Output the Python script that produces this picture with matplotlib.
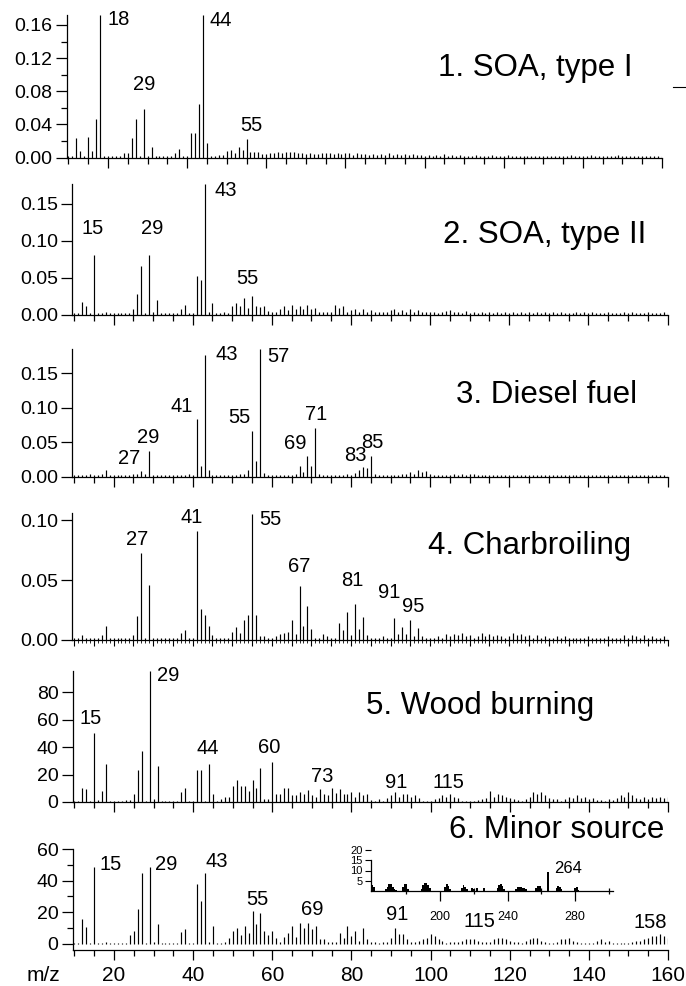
import numpy as np
import matplotlib
matplotlib.use("Agg")
import matplotlib.pyplot as plt
from matplotlib.ticker import MultipleLocator, FormatStrFormatter
from matplotlib.lines import Line2D

plt.rcParams['font.family'] = ['Liberation Sans', 'DejaVu Sans']

#====== factor mass spectra, m/z 10..160 ======
mz = np.arange(10, 161)

soa1 = [0.0015, 0.0015, 0.023, 0.008, 0.0015, 0.025, 0.008, 0.047, 0.172, 0.0015,
        0.0015, 0.0015, 0.0015, 0.0015, 0.005, 0.006, 0.023, 0.047, 0.002, 0.059,
        0.002, 0.013, 0.0015, 0.0015, 0.0015, 0.0015, 0.002, 0.006, 0.010, 0.002,
        0.002, 0.030, 0.030, 0.064, 0.172, 0.017, 0.002, 0.002, 0.003, 0.003,
        0.008, 0.009, 0.006, 0.013, 0.009, 0.022, 0.007, 0.007, 0.007, 0.004,
        0.004, 0.005, 0.006, 0.007, 0.005, 0.007, 0.007, 0.007, 0.006, 0.005,
        0.004, 0.005, 0.004, 0.004, 0.006, 0.005, 0.006, 0.004, 0.005, 0.004,
        0.006, 0.005, 0.003, 0.005, 0.004, 0.004, 0.003, 0.004, 0.003, 0.004,
        0.003, 0.005, 0.003, 0.004, 0.003, 0.004, 0.003, 0.004, 0.003, 0.003,
        0.002, 0.003, 0.002, 0.003, 0.002, 0.004, 0.002, 0.003, 0.002, 0.003,
        0.002, 0.002, 0.002, 0.003, 0.002, 0.002, 0.002, 0.003, 0.002, 0.002,
        0.002, 0.003, 0.002, 0.002, 0.002, 0.002, 0.002, 0.002, 0.002, 0.002,
        0.002, 0.002, 0.002, 0.002, 0.002, 0.002, 0.002, 0.003, 0.002, 0.002,
        0.002, 0.002, 0.003, 0.002, 0.002, 0.002, 0.002, 0.002, 0.002, 0.003,
        0.002, 0.002, 0.002, 0.002, 0.002, 0.002, 0.002, 0.002, 0.002, 0.002,
        0.002]

soa2 = [0.0015, 0.0015, 0.017, 0.011, 0.0015, 0.081, 0.0015, 0.0015, 0.003, 0.0015,
        0.0015, 0.0015, 0.0015, 0.0015, 0.002, 0.007, 0.028, 0.066, 0.0015, 0.081,
        0.003, 0.020, 0.0015, 0.0015, 0.0015, 0.0015, 0.0015, 0.007, 0.013, 0.0015,
        0.0015, 0.052, 0.047, 0.177, 0.003, 0.016, 0.0015, 0.0015, 0.003, 0.002,
        0.011, 0.016, 0.011, 0.022, 0.009, 0.025, 0.011, 0.010, 0.011, 0.005,
        0.004, 0.004, 0.008, 0.011, 0.006, 0.013, 0.008, 0.011, 0.007, 0.013,
        0.008, 0.009, 0.004, 0.004, 0.004, 0.004, 0.013, 0.009, 0.012, 0.004,
        0.006, 0.008, 0.004, 0.007, 0.004, 0.006, 0.003, 0.003, 0.004, 0.003,
        0.006, 0.008, 0.004, 0.006, 0.004, 0.007, 0.003, 0.006, 0.003, 0.004,
        0.003, 0.004, 0.002, 0.003, 0.005, 0.006, 0.003, 0.004, 0.002, 0.005,
        0.002, 0.003, 0.002, 0.003, 0.002, 0.004, 0.002, 0.003, 0.002, 0.004,
        0.002, 0.003, 0.002, 0.003, 0.002, 0.003, 0.002, 0.003, 0.002, 0.004,
        0.002, 0.003, 0.002, 0.003, 0.002, 0.002, 0.002, 0.003, 0.002, 0.003,
        0.002, 0.003, 0.002, 0.002, 0.002, 0.003, 0.002, 0.002, 0.002, 0.003,
        0.002, 0.003, 0.002, 0.002, 0.002, 0.003, 0.002, 0.002, 0.002, 0.003,
        0.002]

diesel = [0.002, 0.002, 0.002, 0.002, 0.003, 0.002, 0.002, 0.003, 0.010, 0.002,
          0.002, 0.002, 0.002, 0.002, 0.002, 0.003, 0.003, 0.008, 0.003, 0.037,
          0.002, 0.002, 0.002, 0.002, 0.002, 0.002, 0.002, 0.002, 0.002, 0.003,
          0.002, 0.084, 0.015, 0.176, 0.010, 0.002, 0.002, 0.002, 0.002, 0.002,
          0.002, 0.002, 0.003, 0.004, 0.009, 0.066, 0.023, 0.185, 0.005, 0.002,
          0.002, 0.002, 0.002, 0.002, 0.002, 0.002, 0.003, 0.015, 0.006, 0.030,
          0.015, 0.071, 0.004, 0.002, 0.002, 0.002, 0.002, 0.002, 0.002, 0.003,
          0.002, 0.005, 0.009, 0.014, 0.012, 0.030, 0.003, 0.002, 0.002, 0.002,
          0.002, 0.002, 0.002, 0.003, 0.004, 0.007, 0.004, 0.009, 0.006, 0.008,
          0.003, 0.002, 0.002, 0.002, 0.002, 0.002, 0.003, 0.002, 0.003, 0.002,
          0.003, 0.003, 0.002, 0.002, 0.002, 0.002, 0.002, 0.002, 0.002, 0.002,
          0.002, 0.0015, 0.002, 0.0015, 0.002, 0.0015, 0.002, 0.0015, 0.002, 0.0015,
          0.002, 0.0015, 0.002, 0.0015, 0.002, 0.0015, 0.002, 0.0015, 0.002, 0.0015,
          0.002, 0.0015, 0.002, 0.0015, 0.002, 0.0015, 0.002, 0.0015, 0.002, 0.0015,
          0.002, 0.0015, 0.002, 0.0015, 0.002, 0.0015, 0.002, 0.0015, 0.002, 0.002,
          0.002]

charbroil = [0.0015, 0.0015, 0.004, 0.002, 0.0015, 0.002, 0.0015, 0.004, 0.012, 0.0015,
             0.0015, 0.0015, 0.0015, 0.0015, 0.0015, 0.004, 0.020, 0.073, 0.0015, 0.046,
             0.0015, 0.002, 0.0015, 0.0015, 0.0015, 0.0015, 0.0015, 0.006, 0.008, 0.0015,
             0.0015, 0.091, 0.026, 0.021, 0.012, 0.004, 0.0015, 0.0015, 0.002, 0.002,
             0.007, 0.011, 0.006, 0.017, 0.021, 0.105, 0.021, 0.003, 0.003, 0.002,
             0.002, 0.003, 0.005, 0.006, 0.007, 0.017, 0.005, 0.045, 0.012, 0.028,
             0.009, 0.0015, 0.0015, 0.005, 0.003, 0.002, 0.002, 0.014, 0.008, 0.023,
             0.004, 0.030, 0.009, 0.019, 0.004, 0.002, 0.002, 0.002, 0.003, 0.002,
             0.002, 0.018, 0.005, 0.011, 0.005, 0.017, 0.003, 0.010, 0.003, 0.002,
             0.002, 0.002, 0.003, 0.002, 0.005, 0.003, 0.005, 0.004, 0.006, 0.003,
             0.004, 0.002, 0.003, 0.006, 0.003, 0.005, 0.003, 0.004, 0.003, 0.002,
             0.003, 0.006, 0.004, 0.005, 0.003, 0.004, 0.002, 0.004, 0.002, 0.003,
             0.002, 0.002, 0.003, 0.002, 0.003, 0.002, 0.002, 0.002, 0.002, 0.002,
             0.003, 0.002, 0.002, 0.002, 0.002, 0.003, 0.002, 0.002, 0.002, 0.004,
             0.002, 0.004, 0.003, 0.002, 0.004, 0.002, 0.003, 0.002, 0.002, 0.003,
             0.002]

wood = [1, 1, 10.4, 9.7, 0.5, 50, 1.5, 8, 28, 1,
        1, 1, 1, 1.5, 1.2, 6, 23.5, 37, 1, 95.3,
        2.4, 26, 1, 1, 1, 1, 1, 7, 10, 0.5,
        0.5, 23.5, 23.5, 0.5, 28, 6, 0.5, 2, 3.6, 4,
        11.4, 15.8, 11.4, 11.4, 8, 16.2, 10.4, 24.7, 2.4, 2.4,
        29, 6, 6, 10, 10, 5, 5, 7, 5.6, 9,
        5, 4, 9.7, 5.6, 5, 10.4, 6.5, 9.7, 5.6, 5.6,
        7, 4, 7, 5, 6, 1.5, 1, 2, 1, 3,
        5, 7, 4, 6, 6, 4, 5, 3, 1, 1,
        1, 2, 3, 5, 4, 6, 4, 3, 1, 1,
        1, 1, 1.5, 2, 3, 8, 4, 6, 5, 4,
        3, 2, 1.5, 1, 2, 4, 7, 6, 7, 5,
        3, 2, 2, 1, 2, 4, 3, 5, 3, 4,
        2, 3, 1.5, 1.5, 1, 2, 1.5, 3, 5, 4,
        7, 5, 3, 2, 4, 2, 4, 3, 4, 3,
        4]

minor = [0.5, 0.5, 15.6, 10.6, 0.5, 48.4, 0.5, 0.5, 1.5, 0.5,
         0.5, 0.5, 0.5, 0.5, 5.7, 8.5, 22, 44.8, 0.5, 48.4,
         1.5, 12.5, 0.5, 0.5, 0.5, 0.5, 0.5, 7.4, 9.3, 0.5,
         0.5, 37.8, 27.3, 44.8, 1.5, 11.4, 0.5, 0.5, 1.5, 3.6,
         8.5, 10.4, 5.7, 11.4, 6.8, 21.1, 12.5, 19.4, 8.5, 5.7,
         8.5, 3.6, 1.5, 4.2, 7.2, 11.4, 4.6, 13, 10, 13,
         9.3, 11.4, 3, 3, 1.5, 1.5, 1.5, 7, 4, 11.5,
         5, 8, 2, 10, 3, 1, 1, 0.5, 1, 1,
         4, 10, 6, 6, 3, 1, 1, 2, 3, 4,
         6, 5, 3, 2, 0.5, 1, 1, 1, 2, 3,
         3, 3, 2, 1, 1, 1, 3, 4, 4, 3,
         2, 1, 1, 0.5, 2, 3, 4, 4, 2, 1,
         0.5, 0.5, 1, 3, 3, 4, 2, 1, 0.5, 0.5,
         0.5, 0.5, 2, 3, 1, 2, 0.5, 0.5, 0.5, 0.5,
         0.5, 1, 2, 2, 3, 4, 5, 5, 6, 5,
         4]

# high-mass part of the minor source (inset)
inset_mz = [159, 160, 161, 168, 169, 170, 171, 172, 173, 174, 178, 179, 180, 181,
            189, 190, 191, 192, 193, 194, 203, 204, 205, 206, 213, 214, 215, 216,
            219, 220, 222, 226, 234, 235, 236, 237, 238, 245, 246, 247, 248, 249,
            250, 251, 257, 258, 259, 260, 264, 269, 270, 271, 272, 280, 281, 282]
inset_val = [5, 3, 2, 1, 2, 3.5, 3.5, 2, 1, 0.5, 2, 3.5, 3.5, 1,
             1, 3, 4, 4, 3, 1.5, 2, 3.5, 2.5, 1, 1.5, 3, 2, 1,
             1.5, 1, 1.5, 1.5, 1.5, 3, 3.5, 2.5, 1, 1, 2, 2, 2, 1.5,
             1.5, 1, 1.5, 2.5, 2.5, 1, 9.5, 1.5, 2.5, 2, 1, 1.5, 2, 0.5]

titles = ["1. SOA, type I", "2. SOA, type II", "3. Diesel fuel",
          "4. Charbroiling", "5. Wood burning", "6. Minor source"]
spectra = [soa1, soa2, diesel, charbroil, wood, minor]
peaks = [[18, 29, 44, 55],
         [15, 29, 43, 55],
         [27, 29, 41, 43, 55, 57, 69, 71, 83, 85],
         [27, 41, 55, 67, 81, 91, 95],
         [15, 29, 44, 60, 73, 91, 115],
         [15, 29, 43, 55, 69, 91, 115, 158]]
ylims = [(0, 0.172), (0, 0.177), (0, 0.185), (0, 0.106), (0, 95.3), (-3.8, 60)]

# text placement of the peak labels (data coords)
label_xy = [[(22.8, 0.167), (29.1, 0.0876), (48.6, 0.165), (56.2, 0.039)],
            [(14.8, 0.116), (29.8, 0.116), (48.4, 0.168), (53.8, 0.049)],
            [(23.9, 0.026), (28.7, 0.057), (37.2, 0.102), (48.5, 0.177), (51.7, 0.086),
             (61.6, 0.174), (66.0, 0.048), (71.2, 0.0895), (81.1, 0.030), (85.3, 0.050)],
            [(26.0, 0.084), (39.7, 0.102), (59.7, 0.1006), (66.9, 0.0617), (80.4, 0.050),
             (89.6, 0.040), (95.7, 0.028)],
            [(14.2, 60.6), (33.7, 92.1), (43.6, 38.8), (59.1, 39.5), (72.5, 18.2),
             (91.4, 14.5), (104.4, 14.5)],
            [(19.2, 50.1), (33.1, 50.1), (46.0, 52.2), (56.2, 28.3), (70.1, 22.0),
             (91.6, 18.4), (112.3, 14.0), (155.5, 13.5)]]

W, H = 686, 986
def rect(l, r, t, b):
    return [l / W, 1 - b / H, (r - l) / W, (b - t) / H]

# panel frames in pixels: left, right, top, bottom
frames = [(66.5, 662, 15, 157.5), (72, 667.5, 184, 314.5), (72, 667.5, 349, 476.5),
          (72, 667.5, 513, 640), (72.5, 668, 671, 802), (72.5, 668, 849, 950)]
title_px = [(535, 76), (545, 243), (547, 403), (530, 554), (480, 714), (557, 838)]

fig = plt.figure(figsize=(W / 100, H / 100), dpi=100)

axes = []
for i in range(6):
    ax = fig.add_axes(rect(*frames[i]))
    ax.vlines(mz, 0, spectra[i], color='black', lw=0.85)
    ax.set_xlim(9.5, 160)
    ax.set_ylim(*ylims[i])
    for s in ['top', 'right']:
        ax.spines[s].set_visible(False)
    for s in ['left', 'bottom']:
        ax.spines[s].set_linewidth(0.9)

    if i == 3:
        ax.xaxis.set_major_locator(MultipleLocator(5))
        ax.xaxis.set_minor_locator(MultipleLocator(1))
        ax.tick_params(axis='x', which='major', length=4.5, width=0.8)
        ax.tick_params(axis='x', which='minor', length=2.2, width=0.6)
    else:
        ax.xaxis.set_major_locator(MultipleLocator(20))
        ax.xaxis.set_minor_locator(MultipleLocator(5))
        ax.tick_params(axis='x', which='major', length=7.5, width=0.9)
        ax.tick_params(axis='x', which='minor', length=4.5, width=0.9)
    if i < 5:
        ax.tick_params(axis='x', labelbottom=False)
    else:
        ax.tick_params(axis='x', labelsize=15, pad=4)

    if i == 0:
        ax.yaxis.set_major_locator(MultipleLocator(0.04))
        ax.yaxis.set_minor_locator(MultipleLocator(0.02))
    elif i < 4:
        ax.yaxis.set_major_locator(MultipleLocator(0.05))
        ax.yaxis.set_minor_locator(MultipleLocator(0.05))
    elif i == 4:
        ax.yaxis.set_major_locator(MultipleLocator(20))
        ax.yaxis.set_minor_locator(MultipleLocator(20))
    else:
        ax.yaxis.set_major_locator(MultipleLocator(20))
        ax.yaxis.set_minor_locator(MultipleLocator(10))
    if i < 4:
        ax.yaxis.set_major_formatter(FormatStrFormatter('%.2f'))
    else:
        ax.yaxis.set_major_formatter(FormatStrFormatter('%d'))
    ax.tick_params(axis='y', which='major', length=8, width=0.9, labelsize=14, pad=2)
    ax.tick_params(axis='y', which='minor', length=4, width=0.9)

    for p, (tx, ty) in zip(peaks[i], label_xy[i]):
        if i == 5 and p == 115:
            continue
        ax.text(tx, ty, str(p), ha='center', va='center', fontsize=14.5)

    fig.text(title_px[i][0] / W, 1 - title_px[i][1] / H, titles[i],
             ha='center', va='baseline', fontsize=22.5)
    axes.append(ax)

fig.text(43 / W, 1 - 981 / H, 'm/z', ha='center', va='baseline', fontsize=15)

#=== inset: minor source above m/z 160
axin = fig.add_axes(rect(370.7, 613, 850, 891))
axin.patch.set_facecolor('none')
axin.bar(inset_mz, inset_val, width=1.0, color='black', lw=0)
axin.set_xlim(159, 302.4)
axin.set_ylim(0, 20)
for s in ['top', 'right']:
    axin.spines[s].set_visible(False)
axin.spines['left'].set_bounds(0, 15)
axin.spines['left'].set_linewidth(0.9)
axin.spines['bottom'].set_linewidth(0.9)
axin.set_yticks([5, 10, 15, 20])
axin.tick_params(axis='y', length=4, width=0.8, labelsize=8, pad=2)
axin.set_xticks([200, 240, 280])
axin.set_xticks([180, 220, 260, 300], minor=True)
axin.tick_params(axis='x', which='major', length=7.5, width=0.9, labelsize=9, pad=7)
axin.tick_params(axis='x', which='minor', length=5, width=0.9, direction='inout')
axin.text(275.7, 11.2, '264', ha='center', va='center', fontsize=12)

# the 115 label of the lower panel is drawn above the inset tick labels
k115 = peaks[5].index(115)
axin.text(label_xy[5][k115][0], label_xy[5][k115][1], '115', transform=axes[5].transData,
          ha='center', va='center', fontsize=14.5,
          bbox=dict(facecolor='white', edgecolor='none', pad=0.3))

fig.add_artist(Line2D([673 / W, 685 / W], [1 - 87 / H, 1 - 87 / H], color='black', lw=0.8))

fig.savefig('out.png', dpi=100)
